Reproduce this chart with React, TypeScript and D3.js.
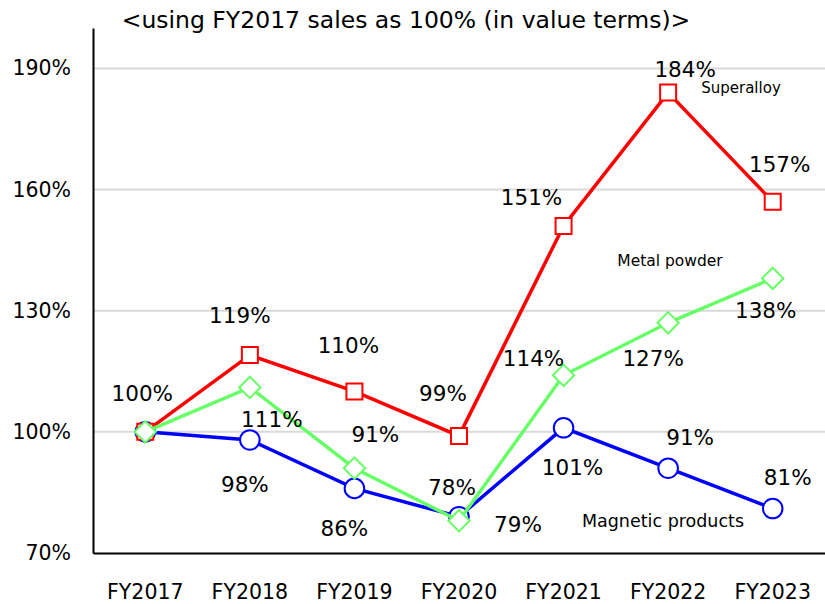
import { useEffect, useRef } from 'react';
import * as d3 from 'd3';

const years = ['FY2017', 'FY2018', 'FY2019', 'FY2020', 'FY2021', 'FY2022', 'FY2023'];
const superalloy = [100, 119, 110, 99, 151, 184, 157];
const metalPowder = [100, 111, 91, 78, 114, 127, 138];
const magnetic = [100, 98, 86, 79, 101, 91, 81];
const yTicks = [70, 100, 130, 160, 190];

// label offsets from each point (null = no label)
const superOff = [[-3, -38], [-10, -40], [-6, -46], [-16, -42], [-32, -28], [17, -23], [7, -37]];
const powderOff = [null, [22, 32], [21, -34], [-7, -33], [-30, -17], [-15, 36], [-7, 32]];
const magOff = [null, [-5, 45], [-10, 40], [59, 8], [9, 40], [22, -31], [15, -31]];

export default function App() {
  const svgRef = useRef<SVGSVGElement>(null);

  useEffect(() => {
    if (!svgRef.current) return;
    const svg = d3.select(svgRef.current);
    svg.selectAll('*').remove();

    const width = 825;
    const height = 604;
    const margin = { top: 28, right: 0, bottom: 51, left: 93 };
    const font = 'DejaVu Sans, Verdana, sans-serif';

    const x = d3.scaleBand()
      .domain(years)
      .range([margin.left, width - margin.right]);

    const y = d3.scaleLinear()
      .domain([70, 200])
      .range([height - margin.bottom, margin.top]);

    const cx = (d: string) => (x(d) as number) + x.bandwidth() / 2;

    // grid
    svg.append('g')
      .selectAll('line')
      .data(yTicks.slice(1))
      .join('line')
      .attr('x1', margin.left)
      .attr('x2', width)
      .attr('y1', d => y(d))
      .attr('y2', d => y(d))
      .attr('stroke', '#d9d9d9')
      .attr('stroke-width', 2);

    // axes
    svg.append('g')
      .attr('transform', `translate(${margin.left},0)`)
      .call(d3.axisLeft(y).tickValues(yTicks).tickSize(0).tickPadding(22).tickFormat(d => `${d}%`))
      .call(g => g.select('.domain').attr('stroke', '#000').attr('stroke-width', 2))
      .call(g => g.selectAll('text').attr('font-size', 20.5).attr('font-family', font).attr('fill', '#000'));

    svg.append('g')
      .attr('transform', `translate(0,${height - margin.bottom})`)
      .call(d3.axisBottom(x).tickSize(0).tickPadding(31))
      .call(g => g.select('.domain').attr('stroke', '#000').attr('stroke-width', 2))
      .call(g => g.selectAll('text').attr('font-size', 20.5).attr('font-family', font).attr('fill', '#000'));

    const line = d3.line<number>()
      .x((_, i) => cx(years[i]))
      .y(d => y(d));

    const drawSeries = (vals: number[], color: string, shape: string, offs: (number[] | null)[]) => {
      const g = svg.append('g');
      g.append('path')
        .datum(vals)
        .attr('d', line)
        .attr('fill', 'none')
        .attr('stroke', color)
        .attr('stroke-width', 3.5);

      const sym = shape === 'square' ? d3.symbolSquare : shape === 'diamond' ? d3.symbolDiamond2 : d3.symbolCircle;
      const size = shape === 'square' ? 256 : shape === 'diamond' ? 290 : 300;
      g.selectAll('path.m')
        .data(vals)
        .join('path')
        .attr('class', 'm')
        .attr('transform', (d, i) => `translate(${cx(years[i])},${y(d)})`)
        .attr('d', d3.symbol().type(sym).size(size)())
        .attr('fill', '#fff')
        .attr('stroke', color)
        .attr('stroke-width', 2);

      g.selectAll('text')
        .data(vals.map((v, i) => ({ v, i, o: offs[i] })).filter(d => d.o))
        .join('text')
        .attr('x', d => cx(years[d.i]) + d.o![0])
        .attr('y', d => y(d.v) + d.o![1])
        .attr('dy', '0.35em')
        .attr('text-anchor', 'middle')
        .attr('font-size', 21.5)
        .attr('font-family', font)
        .attr('fill', '#000')
        .text(d => `${d.v}%`);
    };

    drawSeries(magnetic, '#0000ff', 'circle', magOff);
    drawSeries(superalloy, '#ff0000', 'square', superOff);
    drawSeries(metalPowder, '#66ff66', 'diamond', powderOff);

    // series names
    const names = [
      { t: 'Superalloy', x: 741, y: 88, s: 15 },
      { t: 'Metal powder', x: 670, y: 261, s: 15.5 },
      { t: 'Magnetic products', x: 663, y: 521, s: 17.5 },
    ];
    svg.append('g')
      .selectAll('text')
      .data(names)
      .join('text')
      .attr('x', d => d.x)
      .attr('y', d => d.y)
      .attr('dy', '0.35em')
      .attr('text-anchor', 'middle')
      .attr('font-size', d => d.s)
      .attr('font-family', font)
      .attr('fill', '#000')
      .text(d => d.t);

    // title
    svg.append('text')
      .attr('x', 406)
      .attr('y', 20)
      .attr('dy', '0.35em')
      .attr('text-anchor', 'middle')
      .attr('font-size', 23.5)
      .attr('font-family', font)
      .attr('fill', '#000')
      .text('<using FY2017 sales as 100% (in value terms)>');
  }, []);

  return (
    <div style={{ position: 'absolute', left: 0, top: 0, width: 825, height: 604, background: '#fff' }}>
      <svg ref={svgRef} width={825} height={604}></svg>
    </div>
  );
}
